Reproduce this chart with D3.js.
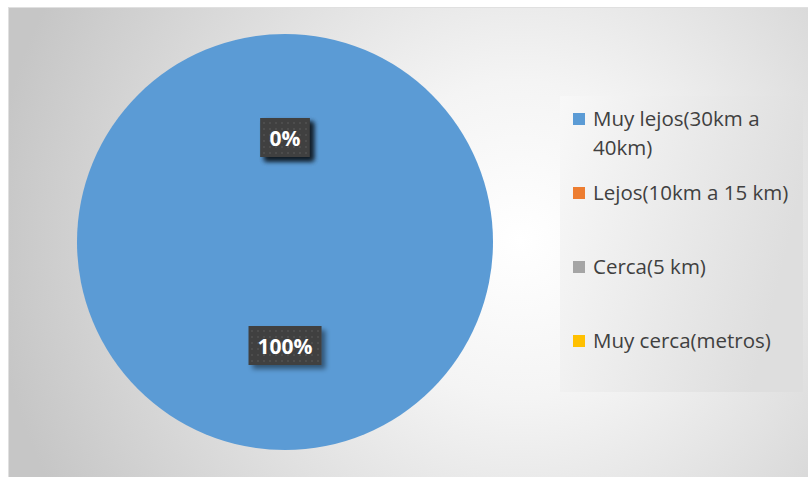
<!DOCTYPE html>
<html>
<head>
<meta charset="utf-8">
<script src="https://cdn.jsdelivr.net/npm/d3@7"></script>
<style>
  body { margin: 0; background: #fff; }
  svg { display: block; }
</style>
</head>
<body>
<script>
// Chart data
const categories = ["Muy lejos(30km a 40km)", "Lejos(10km a 15 km)", "Cerca(5 km)", "Muy cerca(metros)"];
const values = [100, 0, 0, 0];
const colors = ["#5b9bd5", "#ed7d31", "#a5a5a5", "#ffc000"];
const legendLines = [["Muy lejos(30km a", "40km)"], ["Lejos(10km a 15 km)"], ["Cerca(5 km)"], ["Muy cerca(metros)"]];

const width = 808, height = 477;

const svg = d3.select("body").append("svg")
    .attr("width", width)
    .attr("height", height);

const defs = svg.append("defs");

// background gradient of the chart area
const bg = defs.append("radialGradient")
    .attr("id", "bg")
    .attr("gradientUnits", "userSpaceOnUse")
    .attr("cx", 520).attr("cy", 240).attr("r", 530);
bg.append("stop").attr("offset", 0).attr("stop-color", "#ffffff");
bg.append("stop").attr("offset", 0.3).attr("stop-color", "#f4f4f4");
bg.append("stop").attr("offset", 1).attr("stop-color", "#c6c6c6");

// legend background
const lg = defs.append("linearGradient")
    .attr("id", "lg")
    .attr("x1", 0).attr("y1", 0).attr("x2", 1).attr("y2", 0.3);
lg.append("stop").attr("offset", 0).attr("stop-color", "#f8f8f8");
lg.append("stop").attr("offset", 1).attr("stop-color", "#dedede");

// dotted pattern for data labels
const pat = defs.append("pattern")
    .attr("id", "dots")
    .attr("patternUnits", "userSpaceOnUse")
    .attr("width", 6).attr("height", 6);
pat.append("rect").attr("width", 6).attr("height", 6).attr("fill", "#3f3f3f");
pat.append("rect").attr("x", 2).attr("y", 2).attr("width", 2).attr("height", 2).attr("fill", "#4d4d4d");

const shadow = defs.append("filter").attr("id", "shadow")
    .attr("x", "-30%").attr("y", "-30%").attr("width", "170%").attr("height", "170%");
shadow.append("feDropShadow")
    .attr("dx", 4).attr("dy", 4).attr("stdDeviation", 2.5)
    .attr("flood-color", "#000").attr("flood-opacity", 0.45);

// chart area
svg.append("rect")
    .attr("x", 8.5).attr("y", 7.5)
    .attr("width", width - 8).attr("height", height - 7)
    .attr("fill", "url(#bg)")
    .attr("stroke", "#e0e0e0");

// pie
const cx = 285, cy = 242, radius = 208;
const pie = d3.pie().sort(null).value(d => d);
const arcs = pie(values);
const arc = d3.arc().innerRadius(0).outerRadius(radius);
const labelArc = d3.arc().innerRadius(0).outerRadius(radius);

const g = svg.append("g").attr("transform", `translate(${cx},${cy})`);

g.selectAll("path.slice")
    .data(arcs)
    .enter().append("path")
    .attr("class", "slice")
    .attr("d", arc)
    .attr("fill", (d, i) => colors[i]);

// data labels
const labels = g.selectAll("g.label")
    .data(arcs)
    .enter().append("g")
    .attr("class", "label")
    .attr("transform", d => {
        const c = labelArc.centroid(d);
        return `translate(${c[0]},${c[1]})`;
    });

labels.each(function(d) {
    const sel = d3.select(this);
    const txt = sel.append("text")
        .attr("text-anchor", "middle")
        .attr("dy", "0.36em")
        .attr("fill", "#fff")
        .attr("font-family", "'Open Sans', sans-serif")
        .attr("font-weight", "bold")
        .attr("font-size", 21)
        .text(d3.format(".0%")(d.value / d3.sum(values)));
    const bb = txt.node().getBBox();
    sel.insert("rect", "text")
        .attr("x", bb.x - 9).attr("y", -20)
        .attr("width", bb.width + 18).attr("height", 39)
        .attr("fill", "url(#dots)")
        .attr("filter", "url(#shadow)");
});

// legend
const legend = svg.append("g");
legend.append("rect")
    .attr("x", 560).attr("y", 96)
    .attr("width", 243).attr("height", 296)
    .attr("fill", "url(#lg)");

const items = legend.selectAll("g.item")
    .data(categories)
    .enter().append("g")
    .attr("class", "item")
    .attr("transform", (d, i) => `translate(573,${126 + i * 74})`);

items.append("rect")
    .attr("x", 0).attr("y", -13)
    .attr("width", 12).attr("height", 12)
    .attr("fill", (d, i) => colors[i]);

items.append("text")
    .attr("x", 20)
    .attr("fill", "#404040")
    .attr("font-family", "'Open Sans', sans-serif")
    .attr("font-size", 20.5)
    .selectAll("tspan")
    .data((d, i) => legendLines[i])
    .enter().append("tspan")
    .attr("x", 20)
    .attr("dy", (d, j) => j === 0 ? 0 : 29)
    .text(d => d);
</script>
</body>
</html>
